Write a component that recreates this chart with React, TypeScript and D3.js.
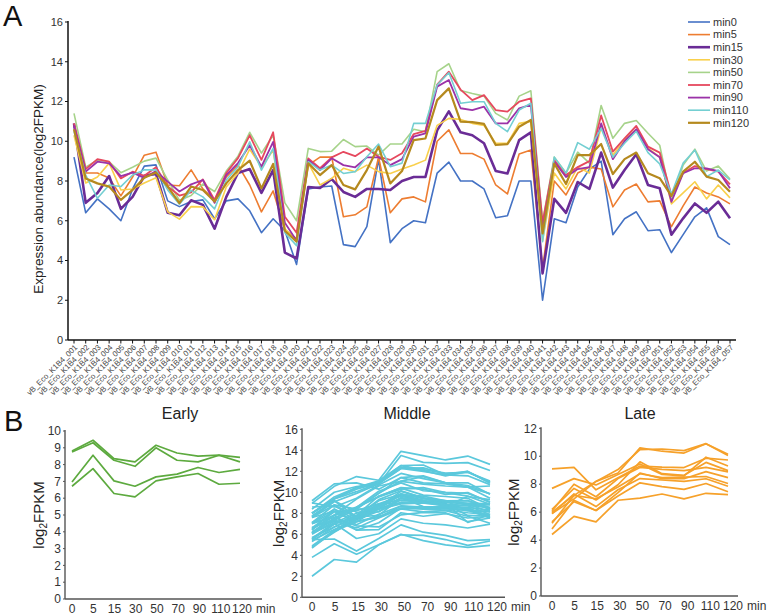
import React from 'react';
import * as d3 from 'd3';

// time points (columns of panel A legend and x ticks of panel B)
const seriesNames = ['min0', 'min5', 'min15', 'min30', 'min50', 'min70', 'min90', 'min110', 'min120'];
const seriesColors = ['#4472C4', '#ED7D31', '#6A2C96', '#F9D04C', '#A6D38A', '#E6485E', '#9B32A8', '#74CFD2', '#B5891E'];
const seriesWidths = [1.6, 1.6, 2.6, 1.6, 1.6, 1.8, 1.8, 1.6, 2.2];
const timeLabels = ['0', '5', '15', '30', '50', '70', '90', '110', '120'];

const geneLabels = d3.range(1, 58).map(i => `vB_Eco_K1B4_${String(i).padStart(3, '0')}`);

// log2FPKM per gene, one array per time point
const min0 = [9.2, 6.4, 7.1, 6.6, 6.0, 7.6, 8.75, 8.81, 7.0, 6.71, 6.97, 7.05, 6.1, 7.0, 7.1, 6.5, 5.4, 6.1, 5.5, 3.8, 7.6, 7.7, 7.75, 4.8, 4.7, 5.7, 9.1, 4.9, 5.6, 6.0, 5.9, 8.4, 8.95, 8.0, 8.0, 7.6, 6.15, 6.25, 8.0, 8.0, 2.0, 6.1, 5.9, 7.7, 8.6, 9.0, 5.3, 6.1, 6.45, 5.5, 5.55, 4.4, 5.3, 6.2, 6.65, 5.2, 4.8];
const min5 = [10.8, 8.4, 8.4, 8.15, 7.25, 8.2, 9.3, 9.45, 7.8, 7.76, 8.56, 7.6, 7.05, 8.2, 8.8, 7.8, 6.45, 7.5, 5.55, 5.1, 8.8, 9.2, 9.2, 6.2, 6.3, 6.7, 9.2, 6.4, 7.1, 7.2, 6.95, 10.0, 10.57, 9.38, 9.38, 9.1, 7.8, 7.35, 9.36, 9.56, 3.6, 8.0, 7.3, 8.4, 8.7, 8.6, 6.7, 7.55, 7.85, 6.95, 7.0, 5.7, 6.75, 7.7, 7.4, 7.2, 6.85];
const min15 = [10.9, 6.9, 7.4, 8.25, 6.6, 7.2, 8.26, 8.36, 6.4, 6.28, 7.03, 6.8, 5.6, 7.2, 8.4, 8.6, 7.4, 8.55, 4.4, 4.1, 7.7, 7.65, 8.1, 7.45, 7.2, 7.6, 7.6, 7.55, 8.0, 8.2, 8.2, 10.55, 11.5, 10.45, 10.3, 9.9, 8.5, 8.38, 10.06, 10.45, 3.35, 7.1, 6.4, 7.95, 7.6, 9.43, 7.67, 8.55, 9.35, 7.8, 7.63, 5.3, 6.12, 6.87, 6.4, 6.96, 6.12];
const min30 = [10.3, 7.9, 8.2, 8.9, 7.55, 7.6, 7.9, 8.16, 6.45, 6.08, 6.71, 6.7, 6.05, 7.7, 8.4, 9.6, 8.7, 9.55, 5.6, 5.0, 8.9, 7.8, 8.13, 8.64, 8.47, 8.8, 8.47, 8.38, 8.6, 8.8, 9.05, 10.8, 11.15, 11.1, 10.9, 10.8, 9.9, 9.9, 10.9, 11.0, 5.0, 8.4, 7.6, 8.7, 8.4, 10.7, 9.3, 10.1, 10.6, 9.65, 9.2, 6.85, 7.4, 7.96, 7.1, 7.8, 7.15];
const min50 = [11.4, 8.7, 9.06, 8.97, 8.42, 8.69, 9.0, 9.15, 8.05, 7.03, 7.27, 7.85, 7.47, 8.5, 9.25, 10.45, 9.4, 10.3, 6.9, 6.0, 9.64, 9.48, 9.5, 10.09, 9.73, 9.76, 9.3, 9.86, 9.86, 10.6, 10.48, 13.5, 13.9, 12.55, 12.4, 12.27, 11.4, 11.07, 12.27, 12.54, 5.95, 9.2, 8.4, 9.45, 8.9, 11.8, 10.15, 10.9, 11.04, 10.4, 9.8, 7.0, 8.8, 9.6, 8.5, 8.75, 8.1];
const min70 = [10.9, 8.6, 9.1, 8.97, 8.13, 8.47, 8.26, 8.69, 7.72, 7.27, 7.43, 8.08, 7.05, 8.4, 9.15, 10.3, 9.06, 10.45, 6.2, 5.4, 9.14, 8.64, 9.19, 9.47, 9.25, 9.64, 9.22, 9.06, 9.4, 10.36, 10.52, 12.85, 13.5, 12.6, 12.07, 12.32, 11.57, 11.49, 11.99, 12.16, 5.9, 9.06, 8.3, 8.7, 9.0, 11.3, 9.48, 10.15, 10.77, 9.73, 9.43, 7.3, 8.4, 8.75, 8.6, 8.47, 7.83];
const min90 = [10.8, 8.47, 8.97, 8.89, 8.25, 8.42, 8.16, 8.5, 7.97, 7.47, 7.83, 8.05, 6.9, 8.3, 8.9, 9.8, 8.72, 9.97, 5.9, 5.0, 9.06, 8.55, 9.14, 8.8, 8.69, 9.19, 9.19, 8.8, 9.1, 10.23, 10.4, 12.75, 13.08, 11.66, 11.57, 11.74, 10.9, 10.9, 11.66, 11.83, 5.5, 8.97, 8.2, 8.6, 8.7, 10.9, 9.1, 10.0, 10.6, 9.6, 9.2, 6.95, 8.39, 8.64, 8.64, 8.5, 7.63];
const min110 = [10.5, 8.3, 7.13, 7.8, 7.72, 8.3, 8.56, 8.56, 7.55, 6.83, 7.53, 7.2, 6.6, 8.05, 8.72, 9.97, 8.55, 9.64, 5.4, 4.75, 8.97, 8.55, 8.8, 8.38, 8.47, 9.22, 9.86, 8.72, 8.9, 10.9, 10.9, 12.83, 13.45, 11.91, 11.99, 11.99, 10.9, 10.48, 11.57, 11.91, 4.95, 9.2, 8.39, 9.93, 9.6, 10.65, 9.2, 9.9, 10.5, 9.43, 8.86, 7.35, 8.9, 9.56, 8.22, 8.55, 8.05];
const min120 = [10.6, 8.13, 7.88, 7.72, 7.05, 7.55, 8.16, 8.43, 7.72, 6.89, 7.72, 7.55, 6.97, 7.88, 8.55, 9.02, 7.63, 8.86, 5.5, 4.95, 8.89, 8.3, 8.8, 7.8, 7.58, 8.55, 9.73, 7.88, 8.5, 10.06, 10.14, 12.07, 12.66, 10.99, 10.96, 10.87, 9.81, 9.86, 10.73, 11.07, 5.36, 8.88, 7.85, 9.3, 9.3, 9.86, 8.35, 9.1, 9.43, 8.39, 8.14, 7.25, 8.47, 8.97, 8.22, 8.05, 7.46];

const seriesValues = [min0, min5, min15, min30, min50, min70, min90, min110, min120];

// gene clusters for panel B (0-based gene index)
const earlyGenes = [6, 7, 9, 10];
const lateGenes = [26, 29, 30, 41, 42, 43, 51, 52, 53, 55, 56];
const middleGenes = d3.range(57).filter(g => !earlyGenes.includes(g) && !lateGenes.includes(g));

const FONT = 'Liberation Sans, Arial, Helvetica, sans-serif';

function PanelA() {
  const x = d3.scalePoint<string>().domain(geneLabels).range([74, 730]);
  const y = d3.scaleLinear().domain([0, 16]).range([340, 22]);
  const line = d3.line<number>()
    .x((_, i) => x(geneLabels[i]) ?? 0)
    .y(d => y(d));

  return (
    <g>
      {seriesValues.map((vals, s) => (
        <path key={seriesNames[s]} d={line(vals) ?? ''} fill="none"
          stroke={seriesColors[s]} strokeWidth={seriesWidths[s]} strokeLinejoin="round" />
      ))}
      {/* y axis */}
      <line x1={68} x2={68} y1={21} y2={340} stroke="#111" strokeWidth={1.5} />
      {y.ticks(8).map(t => (
        <g key={t} transform={`translate(68,${y(t)})`}>
          <line x1={-3} x2={0} stroke="#111" />
          <text x={-5} dy="0.35em" textAnchor="end" fontSize={11} fill="#333" fontFamily={FONT}>{t}</text>
        </g>
      ))}
      <text transform="translate(43,189) rotate(-90)" textAnchor="middle" fontSize={13.5} fill="#222" fontFamily={FONT}>
        Expression abundance(log2FPKM)
      </text>
      {/* x axis */}
      <line x1={68} x2={736} y1={340} y2={340} stroke="#111" strokeWidth={1.5} />
      {geneLabels.map(g => (
        <g key={g} transform={`translate(${x(g)},340)`}>
          <line y1={0} y2={3.5} stroke="#111" />
          <text transform="translate(2,6) rotate(-45)" textAnchor="end" dy="0.35em" fontSize={7.8} fill="#444" fontFamily={FONT}>{g}</text>
        </g>
      ))}
      {/* legend */}
      {seriesNames.map((n, i) => (
        <g key={n} transform={`translate(688,${22 + i * 12.6})`}>
          <line x1={0} x2={22} stroke={seriesColors[i]} strokeWidth={seriesWidths[i]} />
          <text x={25} dy="0.35em" fontSize={11} fill="#333" fontFamily={FONT}>{n}</text>
        </g>
      ))}
      <text x={3} y={26} fontSize={29} fill="#111" fontFamily={FONT}>A</text>
    </g>
  );
}

interface TrendProps {
  title: string;
  genes: number[];
  color: string;
  yMax: number;
  yStep: number;
  axisX: number;
  xFirst: number;
  xLast: number;
  labelLast: number;
  axisEnd: number;
  yTop: number;
  yBottom: number;
  titleX: number;
  labelX: number;
}

function TrendPanel({ title, genes, color, yMax, yStep, axisX, xFirst, xLast, labelLast, axisEnd, yTop, yBottom, titleX, labelX }: TrendProps) {
  const x = d3.scalePoint<string>().domain(timeLabels).range([xFirst, xLast]);
  const xl = d3.scalePoint<string>().domain(timeLabels).range([xFirst, labelLast]);
  const y = d3.scaleLinear().domain([0, yMax]).range([yBottom, yTop]);
  const line = d3.line<number>()
    .x((_, i) => x(timeLabels[i]) ?? 0)
    .y(d => y(d));
  const ticks = d3.range(0, yMax + yStep / 2, yStep);

  return (
    <g>
      {genes.map(g => (
        <path key={g} d={line(seriesValues.map(s => s[g])) ?? ''} fill="none"
          stroke={color} strokeWidth={1.7} strokeLinejoin="round" />
      ))}
      <line x1={axisX} x2={axisX} y1={yTop - 1} y2={yBottom} stroke="#555" strokeWidth={1.4} />
      <line x1={axisX} x2={axisEnd} y1={yBottom} y2={yBottom} stroke="#555" strokeWidth={1.4} />
      {ticks.map(t => (
        <g key={t} transform={`translate(${axisX},${y(t)})`}>
          <line x1={-2} x2={0} stroke="#555" />
          <text x={-4} dy="0.35em" textAnchor="end" fontSize={12} fill="#333" fontFamily={FONT}>{t}</text>
        </g>
      ))}
      {timeLabels.map(t => (
        <text key={t} x={xl(t)} y={yBottom + 14} textAnchor="middle" fontSize={12} fill="#333" fontFamily={FONT}>{t}</text>
      ))}
      <text x={(xl('120') ?? 0) + 14} y={yBottom + 14} fontSize={12} fill="#333" fontFamily={FONT}>min</text>
      <text x={titleX} y={419} textAnchor="middle" fontSize={16} fill="#222" fontFamily={FONT}>{title}</text>
      <text transform={`translate(${labelX},${(yTop + yBottom) / 2}) rotate(-90)`} textAnchor="middle" fontSize={15} fill="#222" fontFamily={FONT}>
        log<tspan fontSize={10} dy={3}>2</tspan><tspan dy={-3}>FPKM</tspan>
      </text>
    </g>
  );
}

export default function App() {
  return (
    <div style={{ position: 'absolute', left: 0, top: 0 }}>
      <svg width={767} height={616} style={{ display: 'block', background: '#fff' }}>
        <PanelA />
        <text x={4} y={431} fontSize={29} fill="#111" fontFamily={FONT}>B</text>
        <TrendPanel title="Early" genes={earlyGenes} color="#5DAA3F" yMax={10} yStep={1}
          axisX={65} xFirst={72} xLast={240} labelLast={242} axisEnd={262} yTop={431} yBottom={599} titleX={180} labelX={44} />
        <TrendPanel title="Middle" genes={middleGenes} color="#5BC8DC" yMax={16} yStep={2}
          axisX={302} xFirst={312} xLast={490} labelLast={497} axisEnd={505} yTop={429.3} yBottom={597.3} titleX={407} labelX={284} />
        <TrendPanel title="Late" genes={lateGenes} color="#F6A12A" yMax={12} yStep={2}
          axisX={541} xFirst={552} xLast={728} labelLast={733} axisEnd={738} yTop={428.3} yBottom={596} titleX={640} labelX={519} />
      </svg>
    </div>
  );
}
